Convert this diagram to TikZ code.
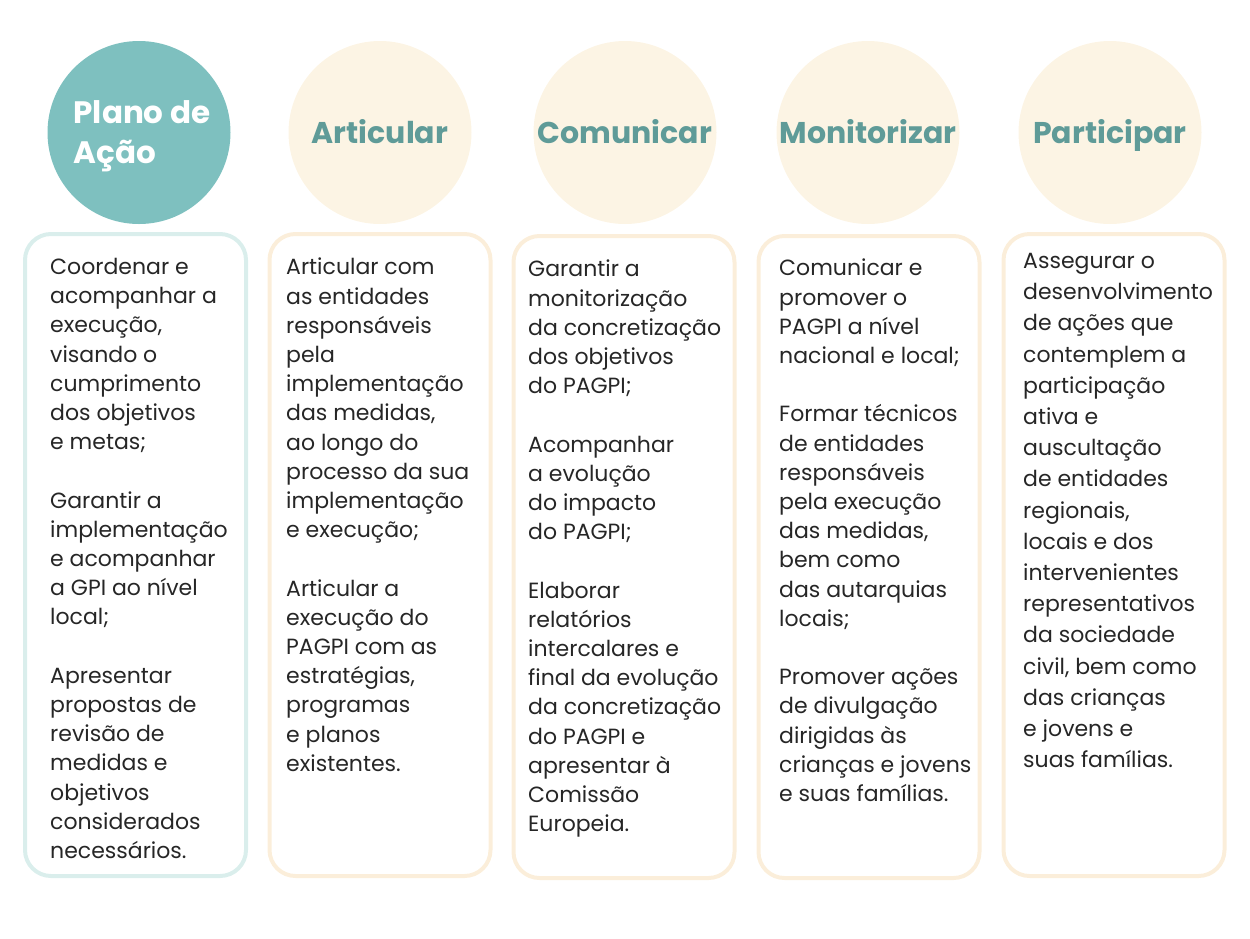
\documentclass[tikz,border=0pt]{standalone}
\usepackage{fontspec}
\setmainfont{Poppins}
\usepackage{tikz}
\definecolor{verdeagua}{HTML}{7EC0BF}
\definecolor{creme}{HTML}{FCF4E4}
\definecolor{bordaverde}{HTML}{DAEEEC}
\definecolor{bordacreme}{HTML}{FBEEDA}
\definecolor{tituloverde}{HTML}{5F9B98}
\definecolor{cinzaescuro}{HTML}{262626}
\tikzset{
	bolha/.style={circle, minimum size=183pt, inner sep=0pt, fill=creme},
	titulo/.style={inner sep=0pt, text=tituloverde, font=\fontsize{30}{40}\selectfont\bfseries, text height=22pt, text depth=0pt},
	caixa/.style={draw=bordacreme, line width=4pt, rounded corners=26pt, minimum width=221pt, minimum height=642pt, inner sep=0pt},
	corpo/.style={anchor=north west, align=left, inner sep=0pt, text=cinzaescuro, font=\fontsize{22}{29.2}\selectfont}
}

\begin{document}
\begin{tikzpicture}[x=1pt,y=-1pt]
	\useasboundingbox (0,0) rectangle (1250,938);

	\node[bolha, fill=verdeagua] (plano) at (139,132.5) {};
	\node[bolha] (articular) at (380,132.5) {};
	\node[bolha] (comunicar) at (625,132.5) {};
	\node[bolha] (monitorizar) at (868,132.5) {};
	\node[bolha] (participar) at (1110,132.5) {};

	\node[titulo, text=white, font=\fontsize{31}{40}\selectfont\bfseries, align=left, text height=, text depth=] (tituloPlano) at ([xshift=3pt,yshift=-4pt]plano) {Plano de\\Ação};
	\node[titulo] (tituloArticular) at (articular) {Articular};
	\node[titulo] (tituloComunicar) at (comunicar) {Comunicar};
	\node[titulo] (tituloMonitorizar) at (monitorizar) {Monitorizar};
	\node[titulo] (tituloParticipar) at (participar) {Participar};

	\node[caixa, draw=bordaverde] (caixaPlano) at (135.5,555) {};
	\node[caixa] (caixaArticular) at (380,555) {};
	\node[caixa] (caixaComunicar) at (624,557) {};
	\node[caixa] (caixaMonitorizar) at (869,557) {};
	\node[caixa] (caixaParticipar) at (1114,555) {};

	\node[corpo] (listaPlano) at (50,258) {Coordenar e\\acompanhar a\\execução,\\visando o\\cumprimento\\dos objetivos\\e metas;\\[29.2pt]
		Garantir a\\implementação\\e acompanhar\\a GPI ao nível\\local;\\[29.2pt]
		Apresentar\\propostas de\\revisão de\\medidas e\\objetivos\\considerados\\necessários.};

	\node[corpo] (listaArticular) at (286,258) {Articular com\\as entidades\\responsáveis\\pela\\implementação\\das medidas,\\ao longo do\\processo da sua\\implementação\\e execução;\\[29.2pt]
		Articular a\\execução do\\PAGPI com as\\estratégias,\\programas\\e planos\\existentes.};

	\node[corpo] (listaComunicar) at (528,260) {Garantir a\\monitorização\\da concretização\\dos objetivos\\do PAGPI;\\[29.2pt]
		Acompanhar\\a evolução\\do impacto\\do PAGPI;\\[29.2pt]
		Elaborar\\relatórios\\intercalares e\\final da evolução\\da concretização\\do PAGPI e\\apresentar à\\Comissão\\Europeia.};

	\node[corpo] (listaMonitorizar) at (779,259) {Comunicar e\\promover o\\PAGPI a nível\\nacional e local;\\[29.2pt]
		Formar técnicos\\de entidades\\responsáveis\\pela execução\\das medidas,\\bem como\\das autarquias\\locais;\\[29.2pt]
		Promover ações\\de divulgação\\dirigidas às\\crianças e jovens\\e suas famílias.};

	\node[corpo, font=\fontsize{22}{31.2}\selectfont] (listaParticipar) at (1023,253) {Assegurar o\\desenvolvimento\\de ações que\\contemplem a\\participação\\ativa e\\auscultação\\de entidades\\regionais,\\locais e dos\\intervenientes\\representativos\\da sociedade\\civil, bem como\\das crianças\\e jovens e\\suas famílias.};

\end{tikzpicture}
\end{document}
